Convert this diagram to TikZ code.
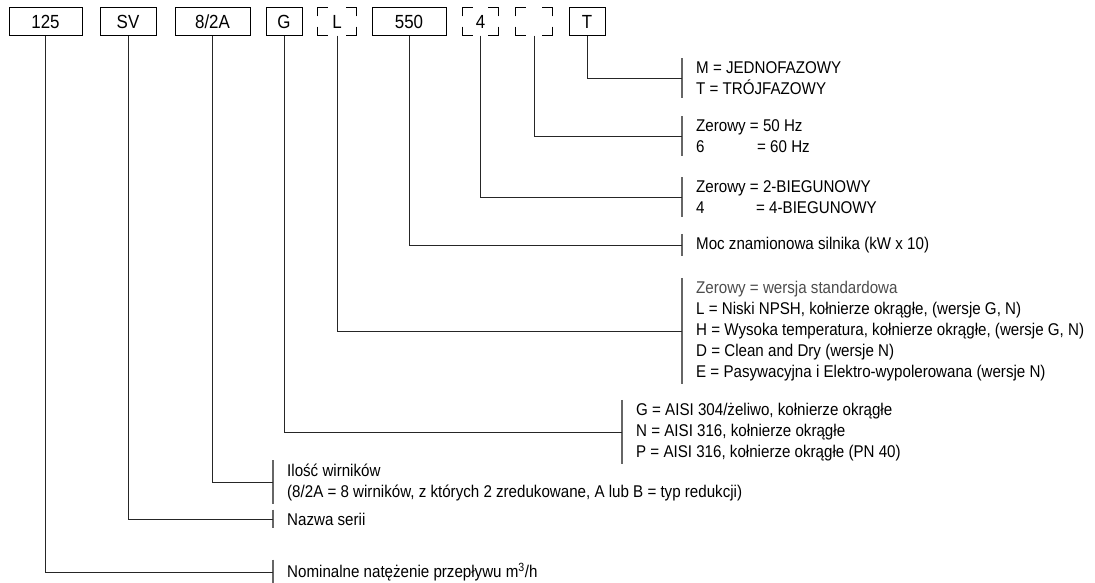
\documentclass[tikz,border=0pt]{standalone}
\usepackage{fontspec}
\setmainfont{Liberation Sans}[FakeStretch=0.89]
\usetikzlibrary{positioning}

\begin{document}
\begin{tikzpicture}[
    x=1pt,
    y=-1pt,
    font=\fontsize{17}{21}\selectfont,
    code/.style={draw, line width=0.9pt, minimum height=28pt, inner sep=0pt, font=\fontsize{19}{21}\selectfont},
    slot/.style={minimum height=28pt, inner sep=0pt, font=\fontsize{19}{21}\selectfont},
    legend/.style={anchor=west, align=left, inner xsep=14pt, inner ysep=3pt},
    lead/.style={line width=0.9pt, black!85},
    bar/.style={line width=1.4pt, black!60}
]
\useasboundingbox (0,0) rectangle (1095,582);

% --- Kod pompy ---
\node[code, minimum width=73pt] (flow)     at (45.5,21.5) {125};
\node[code, minimum width=56pt] (series)   at (128,21.5)  {SV};
\node[code, minimum width=75pt] (stages)   at (212.5,21.5) {8/2A};
\node[code, minimum width=36pt] (material) at (284,21.5)  {G};
\node[slot, minimum width=38pt] (variant)  at (337,21.5)  {L};
\node[code, minimum width=74pt] (power)    at (409,21.5)  {550};
\node[slot, minimum width=35pt] (poles)    at (480.5,21.5) {4};
\node[slot, minimum width=36pt] (freq)     at (534,21.5)  {};
\node[code, minimum width=36pt] (phase)    at (587,21.5)  {T};

\foreach \n in {variant,poles,freq} {
    \draw[line width=0.9pt] ([yshift=-9pt]\n.north west) -- (\n.north west) -- ([xshift=10pt]\n.north west);
    \draw[line width=0.9pt] ([yshift=-9pt]\n.north east) -- (\n.north east) -- ([xshift=-10pt]\n.north east);
    \draw[line width=0.9pt] ([yshift=9pt]\n.south west) -- (\n.south west) -- ([xshift=10pt]\n.south west);
    \draw[line width=0.9pt] ([yshift=9pt]\n.south east) -- (\n.south east) -- ([xshift=-10pt]\n.south east);
}

% --- Opisy ---
\node[legend] (phasetxt) at (682,78) {M = JEDNOFAZOWY\\T = TRÓJFAZOWY};
\node[legend] (freqtxt)  at (682,136) {Zerowy = 50 Hz\\\makebox[61pt][l]{6}= 60 Hz};
\node[legend] (polestxt) at (682,197) {Zerowy = 2-BIEGUNOWY\\\makebox[60pt][l]{4}= 4-BIEGUNOWY};
\node[legend] (powertxt) at (682,245) {Moc znamionowa silnika (kW x 10)};
\node[legend] (varianttxt) at (682,331) {\textcolor{black!70}{Zerowy = wersja standardowa}\\
    L = Niski NPSH, kołnierze okrągłe, (wersje G, N)\\
    H = Wysoka temperatura, kołnierze okrągłe, (wersje G, N)\\
    D = Clean and Dry (wersje N)\\
    E = Pasywacyjna i Elektro-wypolerowana (wersje N)};
\node[legend] (materialtxt) at (622,432) {G = AISI 304/żeliwo, kołnierze okrągłe\\
    N = AISI 316, kołnierze okrągłe\\
    P = AISI 316, kołnierze okrągłe (PN 40)};
\node[legend] (stagestxt) at (273,482) {Ilość wirników\\
    (8/2A = 8 wirników, z których 2 zredukowane, A lub B = typ redukcji)};
\node[legend] (seriestxt) at (273,519) {Nazwa serii};
\node[legend] (flowtxt)   at (273,572) {Nominalne natężenie przepływu m\textsuperscript{3}/h};

\foreach \n in {phasetxt,freqtxt,polestxt,powertxt,varianttxt,materialtxt,stagestxt,seriestxt,flowtxt} {
    \draw[bar] (\n.north west) -- (\n.south west);
}

% --- Linie ---
\draw[lead] (phase.south)    |- (phasetxt.west);
\draw[lead] (freq.south)     |- (freqtxt.west);
\draw[lead] (poles.south)    |- (polestxt.west);
\draw[lead] (power.south)    |- (powertxt.west);
\draw[lead] (variant.south)  |- (varianttxt.west);
\draw[lead] (material.south) |- (materialtxt.west);
\draw[lead] (stages.south)   |- (stagestxt.west);
\draw[lead] (series.south)   |- (seriestxt.west);
\draw[lead] (flow.south)     |- (flowtxt.west);

\end{tikzpicture}
\end{document}
